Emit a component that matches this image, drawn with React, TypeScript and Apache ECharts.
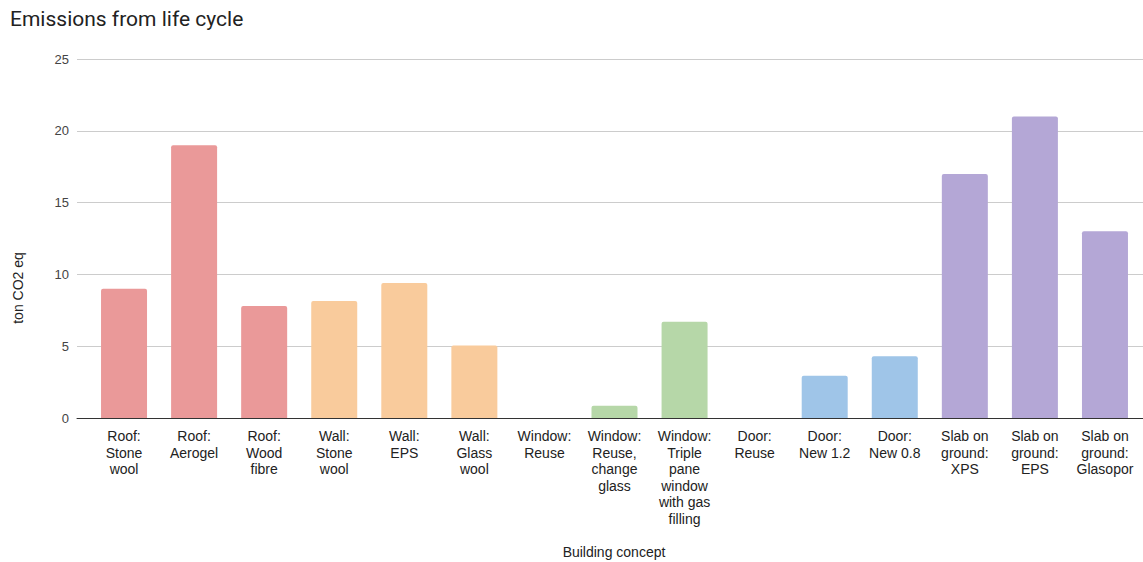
import React, { useEffect, useRef } from "react";
import * as echarts from "echarts";

// Building concepts (line breaks as shown under the axis)
const categories = [
  "Roof:\nStone\nwool",
  "Roof:\nAerogel",
  "Roof:\nWood\nfibre",
  "Wall:\nStone\nwool",
  "Wall:\nEPS",
  "Wall:\nGlass\nwool",
  "Window:\nReuse",
  "Window:\nReuse,\nchange\nglass",
  "Window:\nTriple\npane\nwindow\nwith gas\nfilling",
  "Door:\nReuse",
  "Door:\nNew 1.2",
  "Door:\nNew 0.8",
  "Slab on\nground:\nXPS",
  "Slab on\nground:\nEPS",
  "Slab on\nground:\nGlasopor",
];

// Life-cycle emissions, ton CO2 eq
const emissions = [9, 19, 7.8, 8.15, 9.4, 5.05, 0, 0.85, 6.7, 0, 2.95, 4.3, 17, 21, 13];

// Building part group of each concept
const groups = ["roof", "roof", "roof", "wall", "wall", "wall", "window", "window", "window", "door", "door", "door", "slab", "slab", "slab"];

const groupColors: Record<string, string> = {
  roof: "#EA9999",
  wall: "#F9CB9C",
  window: "#B6D7A8",
  door: "#9FC5E8",
  slab: "#B4A7D6",
};

const yTicks = { min: 0, max: 25, interval: 5 };

export default function App() {
  const ref = useRef<HTMLDivElement>(null);

  useEffect(() => {
    document.body.style.margin = "0";
    if (!ref.current) return;
    const chart = echarts.init(ref.current, undefined, { renderer: "svg" });
    const labelFont = "Arial, 'Liberation Sans', sans-serif";
    chart.setOption({
      animation: false,
      backgroundColor: "#ffffff",
      title: {
        text: "Emissions from life cycle",
        left: 5,
        top: 3,
        textStyle: {
          fontFamily: "Roboto, sans-serif",
          fontSize: 21,
          fontWeight: "normal",
          color: "#222222",
        },
      },
      grid: [
        { left: 89, right: 3, top: 59, bottom: 144, outerBoundsMode: "none" },
        { left: 77, right: 0, top: 59, bottom: 144, outerBoundsMode: "none" },
      ],
      xAxis: [
        {
          type: "category",
          gridIndex: 0,
          data: categories,
          axisLine: { show: false },
          axisTick: { show: false },
          axisLabel: {
            interval: 0,
            margin: 10,
            fontFamily: labelFont,
            fontSize: 14,
            lineHeight: 16.5,
            color: "#222222",
            align: "center",
          },
        },
        {
          type: "category",
          gridIndex: 1,
          data: [""],
          axisLine: { show: true, lineStyle: { color: "#333333", width: 1 } },
          axisTick: { show: false },
          axisLabel: { show: false },
        },
      ],
      yAxis: [
        {
          type: "value",
          gridIndex: 0,
          ...yTicks,
          axisLine: { show: false },
          axisTick: { show: false },
          splitLine: { show: false },
          axisLabel: { show: false },
        },
        {
          type: "value",
          gridIndex: 1,
          ...yTicks,
          axisLine: { show: false },
          axisTick: { show: false },
          splitLine: { show: true, lineStyle: { color: "#cccccc", width: 1 } },
          axisLabel: {
            margin: 8,
            fontFamily: labelFont,
            fontSize: 13,
            color: "#444444",
          },
        },
      ],
      graphic: [
        {
          type: "text",
          x: 18,
          y: 288,
          rotation: Math.PI / 2,
          style: {
            text: "ton CO2 eq",
            fontFamily: labelFont,
            fontSize: 14,
            fill: "#222222",
            align: "center",
            verticalAlign: "middle",
          },
        },
        {
          type: "text",
          x: 614,
          y: 552,
          style: {
            text: "Building concept",
            fontFamily: labelFont,
            fontSize: 14,
            fill: "#222222",
            align: "center",
            verticalAlign: "middle",
          },
        },
      ],
      series: [
        {
          type: "bar",
          xAxisIndex: 0,
          yAxisIndex: 0,
          barWidth: 46,
          data: emissions.map((v, i) => ({
            value: v,
            itemStyle: { color: groupColors[groups[i]], borderRadius: [2, 2, 0, 0] },
          })),
        },
      ],
    });
    return () => chart.dispose();
  }, []);

  return <div ref={ref} style={{ width: 1143, height: 562 }} />;
}
